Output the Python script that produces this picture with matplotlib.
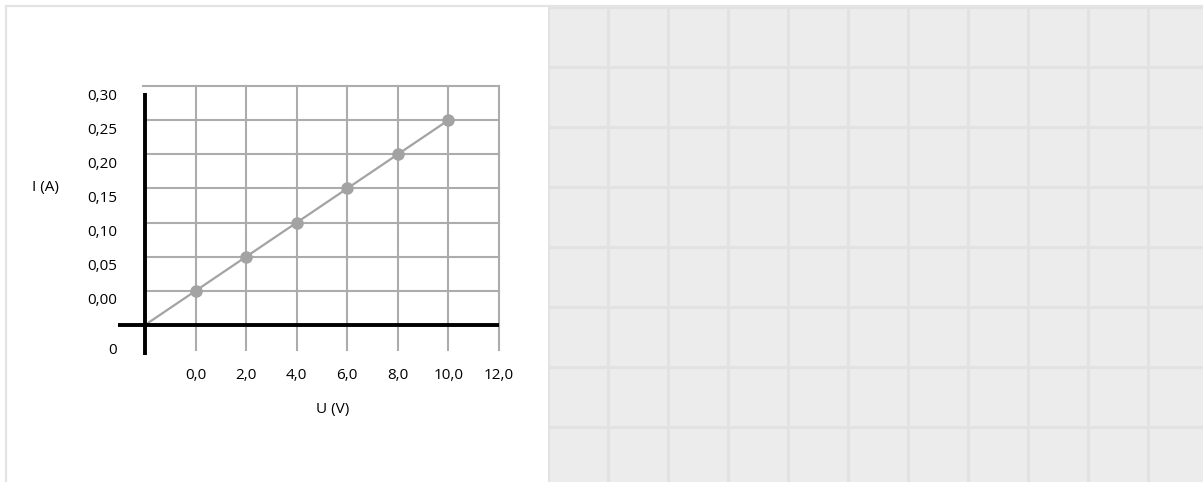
import matplotlib
matplotlib.use('Agg')
import matplotlib.pyplot as plt
from matplotlib.patches import Rectangle
from matplotlib.transforms import offset_copy

plt.rcParams['font.family'] = ['Open Sans', 'DejaVu Sans']

# measured values
u_volts = [0, 2, 4, 6, 8, 10]
i_amps = [0.00, 0.05, 0.10, 0.15, 0.20, 0.25]
x_ticks = [0, 2, 4, 6, 8, 10, 12]
x_labels = ['0,0', '2,0', '4,0', '6,0', '8,0', '10,0', '12,0']
y_ticks = [0.00, 0.05, 0.10, 0.15, 0.20, 0.25, 0.30]
y_labels = ['0,00', '0,05', '0,10', '0,15', '0,20', '0,25', '0,30']
x_origin, y_origin = -2, -0.05

W, H = 1203, 482
fig = plt.figure(figsize=(W / 100, H / 100), dpi=100)
fig.patch.set_facecolor('white')

def px_axes(x0, y0, x1, y1):
    # pixel box (top-left origin) -> figure axes
    return fig.add_axes([x0 / W, 1 - y1 / H, (x1 - x0) / W, (y1 - y0) / H])

# outer frame
fig.patches.append(Rectangle((6 / W, -0.01), 1, 1.01 - 6 / H, transform=fig.transFigure,
                             fill=False, ec='#e4e4e4', lw=1.6))

# right grey grid panel
bg = px_axes(548, 7, 1203, 482)
bg.set_facecolor('#ececec')
bg.set_xlim(0, 655)
bg.set_ylim(475, 0)
for xv in range(0, 656, 60):
    bg.axvline(xv, color='#e2e2e2', lw=2.2)
for yv in range(0, 476, 60):
    bg.axhline(yv, color='#e2e2e2', lw=2.2)
bg.set_xticks([])
bg.set_yticks([])
for s in bg.spines.values():
    s.set_visible(False)

# main chart
ax = px_axes(145, 86, 499, 325)
ax.set_xlim(x_origin, 12)
ax.set_ylim(y_origin, 0.30)
ax.axis('off')

grid_c = '#acacac'
for xv in x_ticks:
    ax.plot([xv, xv], [-0.087, 0.30], color=grid_c, lw=1.5, clip_on=False, zorder=1)
for yv in y_ticks:
    x_start = -2.08 if yv == 0.30 else x_origin
    ax.plot([x_start, 12], [yv, yv], color=grid_c, lw=1.5, clip_on=False, zorder=1)

# black axes
ax.plot([-3.07, 12], [y_origin, y_origin], color='black', lw=2.8, clip_on=False, zorder=3,
        solid_capstyle='butt')
ax.plot([x_origin, x_origin], [-0.094, 0.29], color='black', lw=2.8, clip_on=False, zorder=3,
        solid_capstyle='butt')

# data line, drawn from the origin corner
ax.plot([x_origin] + u_volts, [y_origin] + i_amps, color='#a3a3a3', lw=1.6, zorder=2,
        clip_on=False)
ax.plot(u_volts, i_amps, 'o', color='#a3a3a3', ms=8, zorder=4, clip_on=False)

fs = 11
down = offset_copy(ax.transData, fig=fig, x=0, y=-10, units='dots')
for yv, lab in zip(y_ticks, y_labels):
    ax.text(-3.11, yv, lab, transform=down, ha='right', va='center', fontsize=fs)
ax.text(-3.11, -0.0867, '0', ha='right', va='center', fontsize=fs)
for xv, lab in zip(x_ticks, x_labels):
    ax.text(xv, -0.124, lab, ha='center', va='center', fontsize=fs)

fig.text(333 / W, 1 - 409 / H, 'U (V)', ha='center', va='center', fontsize=fs)
fig.text(45 / W, 1 - 187 / H, 'I (A)', ha='center', va='center', fontsize=fs)

fig.savefig('out.png', dpi=100)
